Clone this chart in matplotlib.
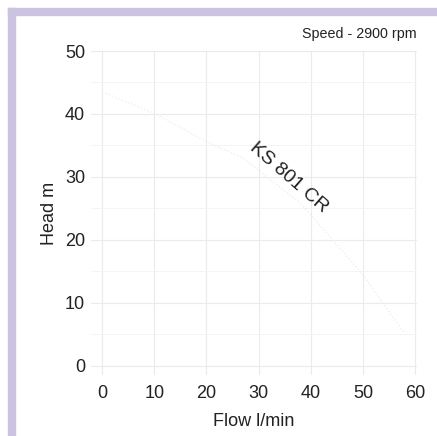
import matplotlib.pyplot as plt
from matplotlib.patches import Rectangle

plt.rcParams['font.family'] = ['Liberation Sans', 'DejaVu Sans']

# pump curve (very faint dotted line)
flow = [0, 10, 20, 27, 38, 44, 50, 58]
head = [43.5, 40.1, 35.6, 33.0, 25.8, 20.2, 14.4, 5.1]
x_ticks = [0, 10, 20, 30, 40, 50, 60]
y_ticks = [0, 10, 20, 30, 40, 50]

fig = plt.figure(figsize=(4.37, 4.36), dpi=100)

# lavender frame on the left and top
fig.patches.append(Rectangle((8 / 437, 0), 7.5 / 437, 1 - 8 / 436,
                             transform=fig.transFigure, color="#cbc3df", zorder=0))
fig.patches.append(Rectangle((8 / 437, 1 - 15.5 / 436), 1, 7.5 / 436,
                             transform=fig.transFigure, color="#cbc3df", zorder=0))

ax = fig.add_axes([90.7 / 437, 1 - 375 / 436, (416.7 - 90.7) / 437, (375 - 51) / 436])
ax.set_xlim(-2.2, 60.3)
ax.set_ylim(-1.5, 50)
ax.set_xticks(x_ticks)
ax.set_yticks(y_ticks)
ax.set_yticks([5, 15, 25, 35, 45], minor=True)
ax.grid(True, which="major", color="#ebebeb", linewidth=0.8)
ax.grid(True, which="minor", axis="y", color="#f3f3f3", linewidth=0.6)
ax.set_axisbelow(True)
for s in ax.spines.values():
    s.set_visible(False)
ax.tick_params(which="both", length=0, labelsize=13, colors="#222222", pad=7)
ax.tick_params(axis="y", pad=4)

ax.plot(flow, head, color="#efefef", linewidth=1, linestyle=(0, (1, 1.5)))

ax.text(35.7, 29.8, "KS 801 CR", rotation=-41, ha="center", va="center",
        fontsize=14, color="#222222", rotation_mode="anchor")

ax.set_xlabel("Flow l/min", fontsize=13, color="#222222", labelpad=8)
ax.set_ylabel("Head m", fontsize=13, color="#222222", labelpad=5)

fig.text(417 / 437, 1 - 34 / 436, "Speed - 2900 rpm", ha="right", va="center",
         fontsize=10.3, color="#222222")

fig.savefig("out.png", dpi=100)
